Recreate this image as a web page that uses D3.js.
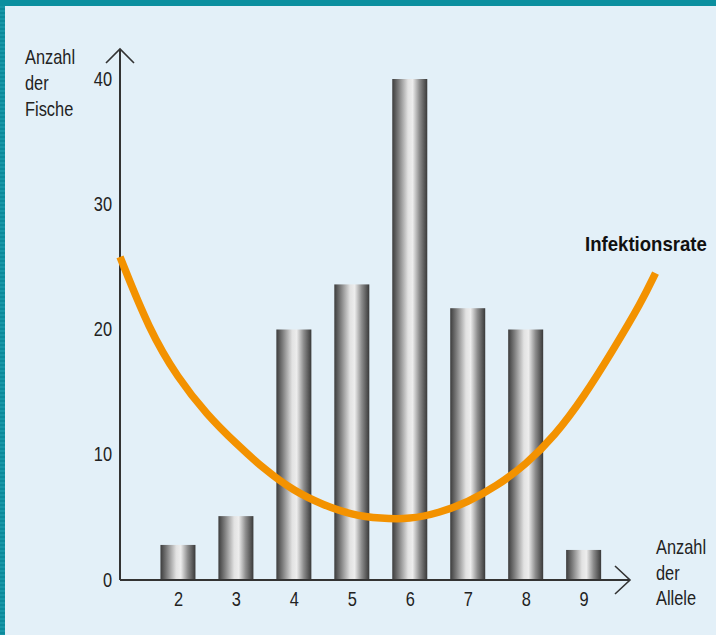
<!DOCTYPE html>
<html>
<head>
<meta charset="utf-8">
<script src="https://cdn.jsdelivr.net/npm/d3@7"></script>
<style>
  html, body { margin: 0; padding: 0; background: #e3f0f8; }
  svg { display: block; }
  text { font-family: "Liberation Sans", Arial, sans-serif; fill: #222; }
</style>
</head>
<body>
<svg id="chart" width="716" height="635"></svg>
<script>
// ---- data ----
const categories = [2, 3, 4, 5, 6, 7, 8, 9];
const fishCounts = [2.8, 5.1, 20, 23.6, 40, 21.7, 20, 2.4];
const yTicks = [0, 10, 20, 30, 40];
const rateX = [1, 1.5, 2, 2.5, 3, 3.5, 4, 4.5, 5, 5.5, 6, 6.5, 7, 7.5, 8, 8.5, 9, 9.5, 10, 10.24];
const rateY = [25.8, 20.0, 16.1, 13.2, 10.9, 8.8, 7.1, 6.0, 5.2, 4.9, 4.85, 5.35, 6.2, 7.5, 9.2, 11.5, 14.6, 18.3, 22.2, 24.5];
const yTitle = ["Anzahl", "der", "Fische"];
const xTitle = ["Anzahl", "der", "Allele"];
const curveLabel = "Infektionsrate";

const svg = d3.select("#chart");
const W = 716, H = 635;
const NARROW = 0.82;

// background + frame
svg.append("rect").attr("width", W).attr("height", H).attr("fill", "#e3f0f8");
const defs = svg.append("defs");
const pat = defs.append("pattern").attr("id", "stripes").attr("patternUnits", "userSpaceOnUse")
  .attr("width", 6).attr("height", 4);
pat.append("rect").attr("width", 6).attr("height", 4).attr("fill", "#1897a8");
pat.append("rect").attr("width", 6).attr("height", 2).attr("fill", "#0c8a9b");
svg.append("rect").attr("x", 0).attr("y", 0).attr("width", 5).attr("height", H).attr("fill", "url(#stripes)");
svg.append("rect").attr("x", 0).attr("y", 0).attr("width", W).attr("height", 6).attr("fill", "#0b8f9f");

// bar gradient
const grad = defs.append("linearGradient").attr("id", "barGrad").attr("x1", "0%").attr("x2", "100%").attr("y1", "0%").attr("y2", "0%");
[[0, "#3c3c3c"], [0.18, "#7d7d7d"], [0.45, "#e2e2e2"], [0.58, "#ededed"], [0.78, "#8c8c8c"], [1, "#393939"]]
  .forEach(([o, c]) => grad.append("stop").attr("offset", o).attr("stop-color", c));

// scales
const x = d3.scaleLinear().domain([1, 9.8]).range([120, 630]);
const y = d3.scaleLinear().domain([0, 40]).range([580, 79]);
const barW = 35;

// bars
svg.append("g").selectAll("rect").data(categories).join("rect")
  .attr("x", (d) => x(d) - barW / 2)
  .attr("y", (d, i) => y(fishCounts[i]))
  .attr("width", barW)
  .attr("height", (d, i) => y(0) - y(fishCounts[i]))
  .attr("fill", "url(#barGrad)");

// axes lines
const axisColor = "#333";
svg.append("line").attr("x1", x(1)).attr("x2", x(1)).attr("y1", 49).attr("y2", y(0))
  .attr("stroke", axisColor).attr("stroke-width", 2);
svg.append("line").attr("x1", x(1)).attr("x2", x(9.8)).attr("y1", y(0)).attr("y2", y(0))
  .attr("stroke", axisColor).attr("stroke-width", 2);
// arrowheads
svg.append("path").attr("d", `M${x(1) - 14},63 L${x(1)},49 L${x(1) + 14},63`)
  .attr("fill", "none").attr("stroke", axisColor).attr("stroke-width", 1.6);
svg.append("path").attr("d", `M615,${y(0) - 14} L630,${y(0)} L615,${y(0) + 14}`)
  .attr("fill", "none").attr("stroke", axisColor).attr("stroke-width", 1.6);

// y axis tick labels
const yAxis = d3.axisLeft(y).tickValues(yTicks).tickSize(0).tickPadding(0).tickFormat(d3.format("d"));
const gy = svg.append("g").attr("transform", `translate(${x(1)},0)`).call(yAxis);
gy.select(".domain").remove();
gy.selectAll("text").attr("font-size", 20).attr("fill", "#222").attr("dy", "0.3em")
  .attr("x", -8 / NARROW).attr("transform", `scale(${NARROW},1)`)
  .style("font-family", '"Liberation Sans", Arial, sans-serif');

// x axis tick labels
const xAxis = d3.axisBottom(x).tickValues(categories).tickSize(0).tickPadding(12).tickFormat(d3.format("d"));
const gx = svg.append("g").attr("transform", `translate(0,${y(0)})`).call(xAxis);
gx.select(".domain").remove();
gx.selectAll("text").attr("font-size", 20).attr("fill", "#222").attr("transform", `scale(${NARROW},1)`)
  .style("font-family", '"Liberation Sans", Arial, sans-serif');

// infection curve
const line = d3.line().x((d) => x(d[0])).y((d) => y(d[1])).curve(d3.curveBasis);
svg.append("path").datum(rateX.map((v, i) => [v, rateY[i]]))
  .attr("d", line).attr("fill", "none").attr("stroke", "#f39200").attr("stroke-width", 7.5);

// titles
function narrowText(g, tx, ty, str, opts = {}) {
  const t = g.append("text")
    .attr("transform", `translate(${tx},${ty}) scale(${opts.sx || NARROW},1)`)
    .attr("font-size", 20).text(str);
  if (opts.bold) t.attr("font-weight", "bold").style("fill", "#111");
  return t;
}
const tg = svg.append("g");
yTitle.forEach((s, i) => narrowText(tg, 25, 64 + i * 26, s));
xTitle.forEach((s, i) => narrowText(tg, 656, 554 + i * 25.5, s));
narrowText(tg, 585, 251, curveLabel, { bold: true, sx: 0.93 });
</script>
</body>
</html>
